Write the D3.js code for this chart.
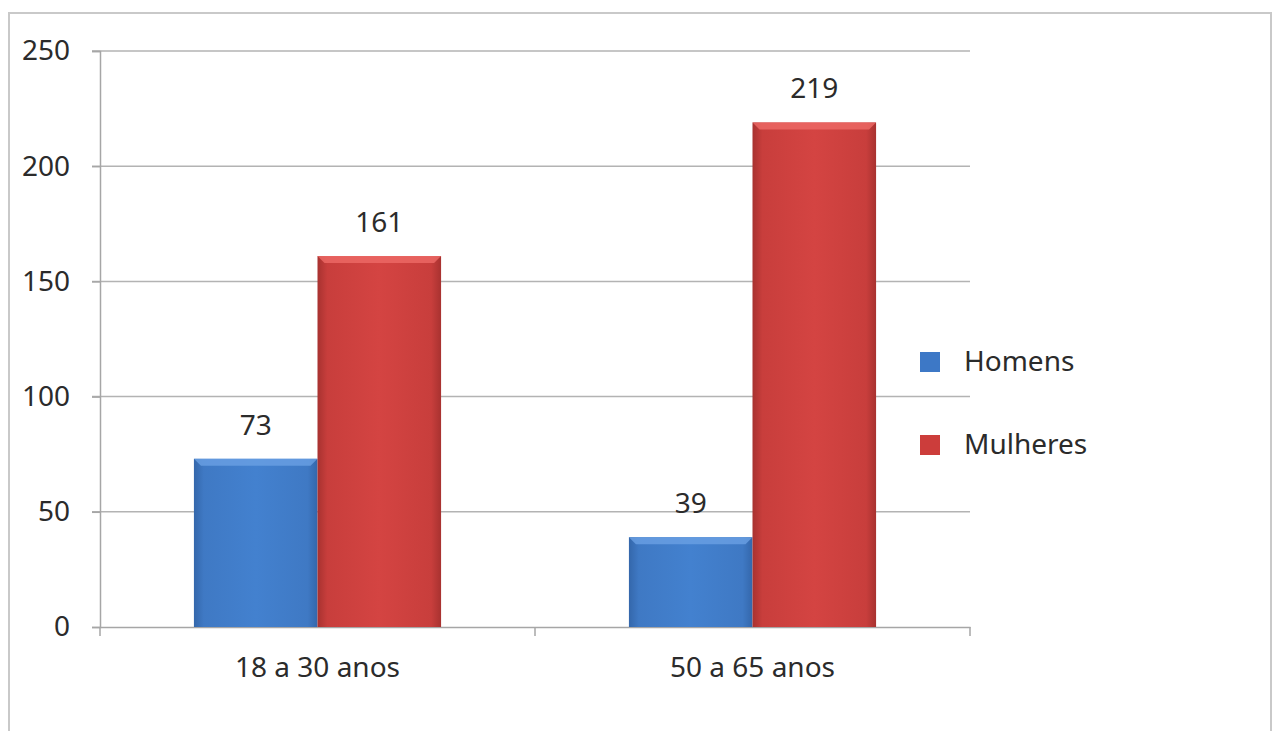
<!DOCTYPE html>
<html>
<head>
<meta charset="utf-8">
<script src="https://cdn.jsdelivr.net/npm/d3@7"></script>
<style>
  body { margin: 0; background: #fff; }
  svg text { font-family: "Noto Sans", sans-serif; fill: #2b2b2b; }
</style>
</head>
<body>
<svg width="1273" height="731"></svg>
<script>
var categories = ["18 a 30 anos", "50 a 65 anos"];
var series = ["Homens", "Mulheres"];
var homens = [73, 39];
var mulheres = [161, 219];
var yTicks = [0, 50, 100, 150, 200, 250];

var svg = d3.select("svg"),
    margin = { top: 51, right: 303, bottom: 104, left: 100 },
    width = +svg.attr("width") - margin.left - margin.right,
    height = +svg.attr("height") - margin.top - margin.bottom;

// outer frame
svg.append("rect")
    .attr("x", 9).attr("y", 13)
    .attr("width", 1262).attr("height", 740)
    .attr("fill", "none")
    .attr("stroke", "#c9c9c9")
    .attr("stroke-width", 2);

var defs = svg.append("defs");
function makeGrad(id, light, mid, dark) {
    var g = defs.append("linearGradient").attr("id", id)
        .attr("x1", "0").attr("x2", "1").attr("y1", "0").attr("y2", "0");
    g.append("stop").attr("offset", "0%").attr("stop-color", dark);
    g.append("stop").attr("offset", "8%").attr("stop-color", mid);
    g.append("stop").attr("offset", "50%").attr("stop-color", light);
    g.append("stop").attr("offset", "92%").attr("stop-color", mid);
    g.append("stop").attr("offset", "100%").attr("stop-color", dark);
}
makeGrad("gradBlue", "#4381cf", "#3f79c4", "#3467ab");
makeGrad("gradRed", "#d44442", "#c83e3c", "#a83230");

var colors = { Homens: "url(#gradBlue)", Mulheres: "url(#gradRed)" };
var topColors = { Homens: "#6aa0e4", Mulheres: "#ee6a66" };
var legendColors = { Homens: "#3d78c6", Mulheres: "#cc3d3b" };

var data = categories.map(function (c, i) {
    return { cat: c, values: [{ key: "Homens", value: homens[i] }, { key: "Mulheres", value: mulheres[i] }] };
});

var g = svg.append("g")
    .attr("transform", "translate(" + margin.left + "," + margin.top + ")");

var x0 = d3.scaleBand().domain(categories).range([0, width]).padding(0);
var x1 = d3.scaleBand().domain(series).range([0, x0.bandwidth()])
    .paddingInner(0).paddingOuter(0.76);
var y = d3.scaleLinear().domain([0, 250]).range([height, 0]);

// gridlines
g.selectAll(".grid")
    .data(yTicks.filter(function (d) { return d > 0; }))
    .enter().append("line")
    .attr("x1", -8).attr("x2", width)
    .attr("y1", function (d) { return y(d); })
    .attr("y2", function (d) { return y(d); })
    .attr("stroke", "#b3b3b3")
    .attr("stroke-width", 1.5);

// y axis
var yAxis = g.append("g")
    .call(d3.axisLeft(y).tickValues(yTicks).tickSize(8).tickPadding(22));
yAxis.select(".domain").attr("stroke", "#a6a6a6").attr("stroke-width", 1.5);
yAxis.selectAll(".tick line").attr("stroke", "#a6a6a6").attr("stroke-width", 1.5);
yAxis.selectAll("text").style("font-size", "28px").attr("fill", "#2b2b2b");

// x axis
var xAxis = g.append("g")
    .attr("transform", "translate(0," + height + ")")
    .call(d3.axisBottom(x0).tickSize(0).tickPadding(30));
xAxis.select(".domain").attr("stroke", "#a6a6a6").attr("stroke-width", 1.5);
xAxis.selectAll("text").style("font-size", "28px").attr("fill", "#2b2b2b");
// category boundary ticks
g.selectAll(".xb")
    .data([0, 1, 2])
    .enter().append("line")
    .attr("x1", function (d) { return d * x0.step(); })
    .attr("x2", function (d) { return d * x0.step(); })
    .attr("y1", height).attr("y2", height + 9)
    .attr("stroke", "#a6a6a6").attr("stroke-width", 1.5);

// bars
var groups = g.selectAll(".group")
    .data(data)
    .enter().append("g")
    .attr("transform", function (d) { return "translate(" + x0(d.cat) + ",0)"; });

groups.selectAll(".bar")
    .data(function (d) { return d.values; })
    .enter().append("rect")
    .attr("x", function (d) { return x1(d.key); })
    .attr("y", function (d) { return y(d.value); })
    .attr("width", x1.bandwidth())
    .attr("height", function (d) { return height - y(d.value); })
    .attr("fill", function (d) { return colors[d.key]; });

// bevel highlight on bar tops
groups.selectAll(".bevel")
    .data(function (d) { return d.values; })
    .enter().append("path")
    .attr("d", function (d) {
        var x = x1(d.key), w = x1.bandwidth(), t = y(d.value), b = 7;
        return "M" + x + "," + t + "H" + (x + w) + "L" + (x + w - b) + "," + (t + b) + "H" + (x + b) + "Z";
    })
    .attr("fill", function (d) { return topColors[d.key]; })
    .attr("opacity", 0.8);

// value labels
groups.selectAll(".label")
    .data(function (d) { return d.values; })
    .enter().append("text")
    .attr("x", function (d) { return x1(d.key) + x1.bandwidth() / 2; })
    .attr("y", function (d) { return y(d.value) - 24; })
    .attr("text-anchor", "middle")
    .style("font-size", "28px")
    .text(function (d) { return d.value; });

// legend
var legend = svg.append("g")
    .attr("transform", "translate(920,360)");
var li = legend.selectAll(".li")
    .data(series)
    .enter().append("g")
    .attr("transform", function (d, i) { return "translate(0," + i * 83 + ")"; });
li.append("rect")
    .attr("x", 0).attr("y", -8)
    .attr("width", 20).attr("height", 20)
    .attr("fill", function (d) { return legendColors[d]; });
li.append("text")
    .attr("x", 44).attr("y", 11)
    .style("font-size", "28px")
    .text(function (d) { return d; });
</script>
</body>
</html>
